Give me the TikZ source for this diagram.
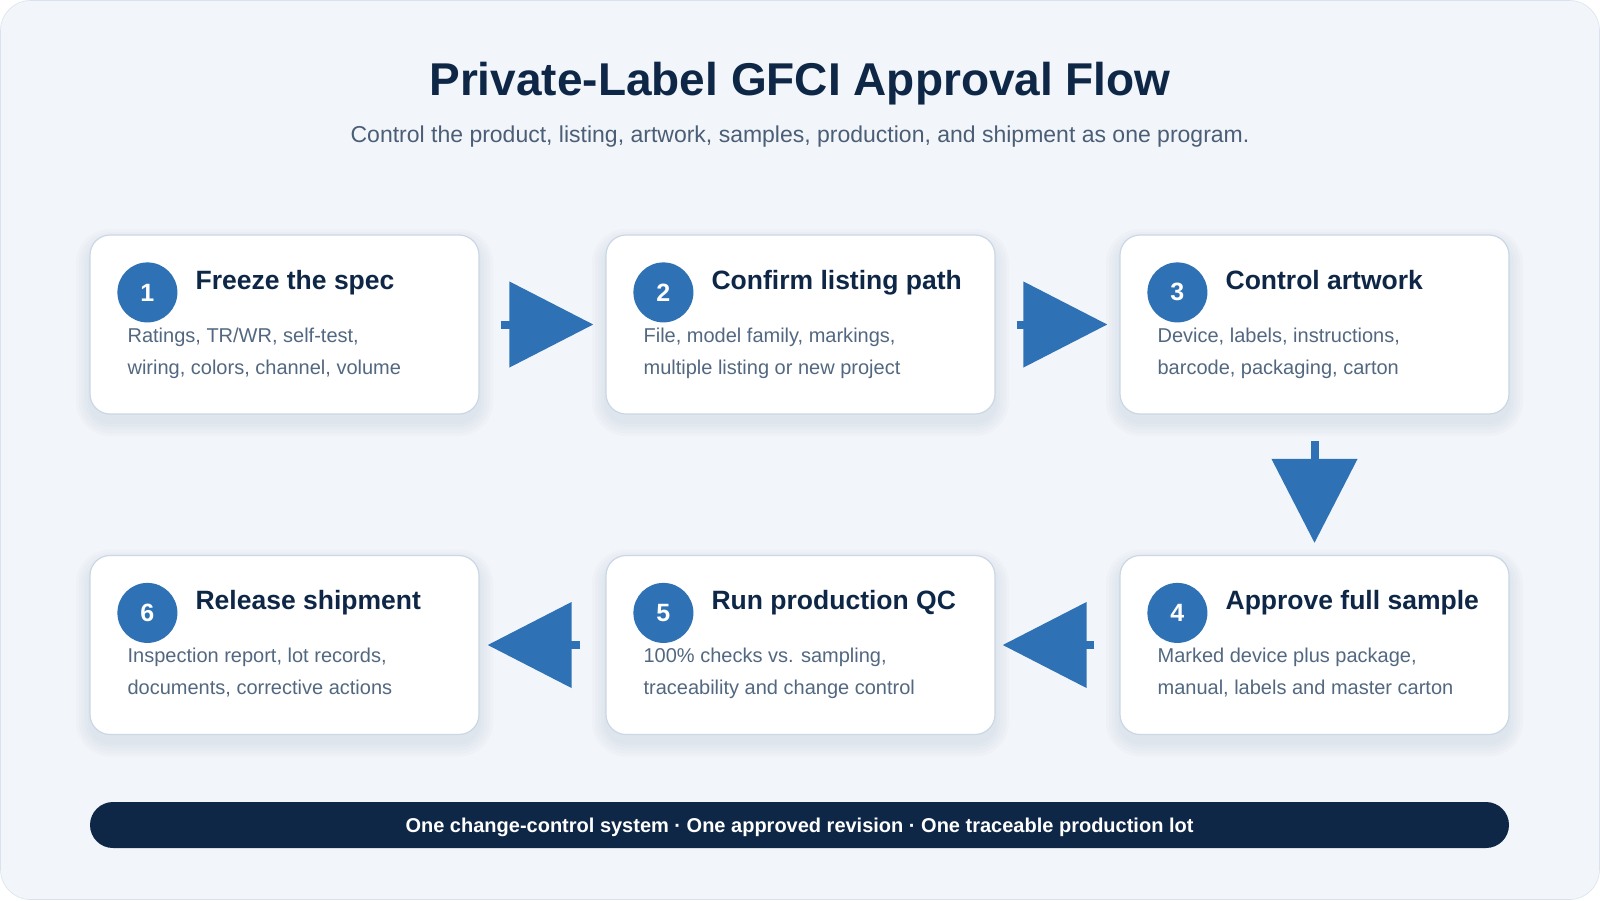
\documentclass[tikz,border=0pt]{standalone}
\usepackage{fontspec}
\setmainfont{Liberation Sans}
\usetikzlibrary{arrows.meta,calc}
\definecolor{bgc}{HTML}{F2F6FA}
\definecolor{navy}{HTML}{0F2747}
\definecolor{subc}{HTML}{4B5E76}
\definecolor{bodyc}{HTML}{526880}
\definecolor{edgec}{HTML}{CAD7E5}
\definecolor{shadc}{HTML}{8FA5BF}
\definecolor{blu}{HTML}{2E72B5}
\tikzset{
  card/.style={draw=edgec, line width=1.2pt, fill=white, rounded corners=20pt,
    minimum width=389pt, minimum height=179pt, inner sep=0pt},
  badge/.style={circle, fill=blu, minimum size=60pt, inner sep=0pt, text=white,
    font=\bfseries\fontsize{25}{25}\selectfont},
  ctitle/.style={anchor=base west, inner sep=0pt, text=navy, font=\bfseries\fontsize{26.5}{30}\selectfont},
  cbody/.style={anchor=base west, inner sep=0pt, text=bodyc, font=\fontsize{20}{24}\selectfont},
  flow/.style={draw=blu, line width=8pt, -{Triangle[width=84pt,length=84pt]}},
  shad/.style={fill=shadc, opacity=0.04}
}
\begin{document}
\begin{tikzpicture}[x=1pt,y=-1pt]
\useasboundingbox (0,0) rectangle (1600,900);
\fill[white] (0,0) rectangle (1600,900);
\fill[bgc, draw=edgec!70, line width=0.6pt, rounded corners=30pt] (0.5,0.5) rectangle (1599.5,899.5);
% title
\node[text=navy, font=\bfseries\fontsize{46}{50}\selectfont, inner sep=0pt, anchor=base] (title) at (800,95) {Private-Label GFCI Approval Flow};
\node[text=subc, font=\fontsize{23}{26}\selectfont, inner sep=0pt, anchor=base] (sub) at (800,142) {Control the product, listing, artwork, samples, production, and shipment as one program.};
% soft shadows
\foreach \x/\y in {284.5/324.5, 800.5/324.5, 1314.5/324.5, 1314.5/645, 800.5/645, 284.5/645}{
  \foreach \s in {2,5,8,11,14}{
    \fill[shad, rounded corners=20pt+\s pt] ($(\x,\y)+(-194.5-\s,-89.5-\s+8)$) rectangle ($(\x,\y)+(194.5+\s,89.5+\s+8)$);
  }
}
% cards
\node[card] (c1) at (284.5,324.5) {};
\node[card] (c2) at (800.5,324.5) {};
\node[card] (c3) at (1314.5,324.5) {};
\node[card] (c4) at (1314.5,645) {};
\node[card] (c5) at (800.5,645) {};
\node[card] (c6) at (284.5,645) {};
% contents
\foreach \c/\n/\t/\a/\b in {
  c1/1/Freeze the spec/{Ratings, TR/WR, self-test,}/{wiring, colors, channel, volume},
  c2/2/Confirm listing path/{File, model family, markings,}/{multiple listing or new project},
  c3/3/Control artwork/{Device, labels, instructions,}/{barcode, packaging, carton},
  c4/4/Approve full sample/{Marked device plus package,}/{manual, labels and master carton},
  c5/5/Run production QC/{100\% checks vs. sampling,}/{traceability and change control},
  c6/6/Release shipment/{Inspection report, lot records,}/{documents, corrective actions}}{
  \node[badge] (\c n) at ($(\c.north west)+(58,58)$) {\n};
  \node[ctitle] (\c t) at ($(\c.north west)+(106,55)$) {\t};
  \node[cbody] (\c a) at ($(\c.north west)+(38,108)$) {\a};
  \node[cbody] (\c b) at ($(\c.north west)+(38,140)$) {\b};
}
% arrows
\draw[flow] ($(c1.east)+(21,0)$) -- ($(c2.west)+(-12,0)$);
\draw[flow] ($(c2.east)+(21,0)$) -- ($(c3.west)+(-12,0)$);
\draw[flow] ($(c3.south)+(0,26)$) -- ($(c4.north)+(0,-12)$);
\draw[flow] ($(c4.west)+(-25,0)$) -- ($(c5.east)+(7,0)$);
\draw[flow] ($(c5.west)+(-25,0)$) -- ($(c6.east)+(8,0)$);
% bottom bar
\node[fill=navy, rounded corners=23pt, minimum width=1419pt, minimum height=46pt, inner sep=0pt] (bar) at (799.5,825) {};
\node[text=white, font=\bfseries\fontsize{20}{22}\selectfont, inner sep=0pt, anchor=base] (bartext) at (bar.center |- 0,832)
  {One change-control system · One approved revision · One traceable production lot};
\end{tikzpicture}
\end{document}
